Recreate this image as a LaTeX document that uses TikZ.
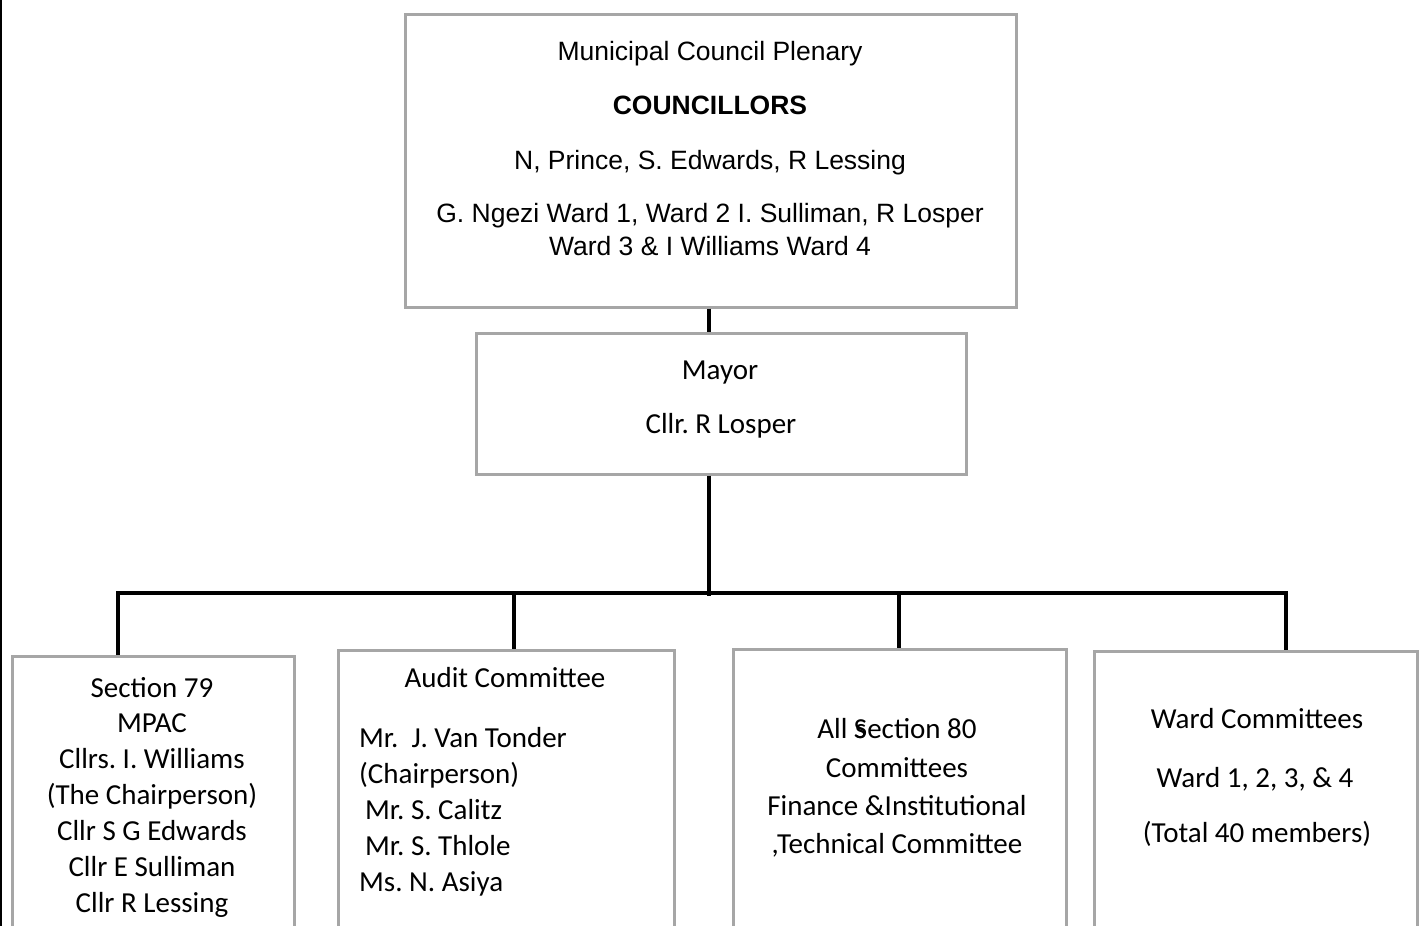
\documentclass[tikz,border=0pt]{standalone}
\usepackage{fontspec}
\newfontfamily\arialf{Liberation Sans}
\newfontfamily\calf{Carlito}
\usetikzlibrary{calc}
\definecolor{boxgray}{HTML}{A6A6A6}
\frenchspacing
\begin{document}
\begin{tikzpicture}[x=1pt,y=-1pt,
  frame/.style={draw=boxgray,line width=2.5pt,rectangle,anchor=north west,inner sep=0pt},
  link/.style={draw=black,line width=4pt},
  ar/.style={font=\arialf\fontsize{26.5}{31}\selectfont,inner sep=0pt,anchor=base},
  cb/.style={font=\calf\fontsize{29}{35}\selectfont,inner sep=0pt,anchor=base},
  cbl/.style={cb,anchor=base west}]
\useasboundingbox (0,0) rectangle (1419,926);
\clip (0,0) rectangle (1419,926);
\fill[white] (0,0) rectangle (1419,926);

% page rule on the left
\coordinate (edgetop) at (1.2,0);
\coordinate (edgebot) at (1.2,926);
\draw[line width=2.5pt] (edgetop) -- (edgebot);

% boxes
\node[frame,minimum width=611pt,minimum height=293pt] (plenary) at (404,13) {};
\node[frame,minimum width=490pt,minimum height=141pt] (mayor) at (475,332) {};
\node[frame,minimum width=282pt,minimum height=320pt] (b1) at (11,655) {};
\node[frame,minimum width=336pt,minimum height=320pt] (b2) at (337,649) {};
\node[frame,minimum width=333pt,minimum height=320pt] (b3) at (732,648) {};
\node[frame,minimum width=323pt,minimum height=320pt] (b4) at (1093,650) {};

% plenary text
\node[ar] (p1) at (710,60) {Municipal Council Plenary};
\node[ar,font=\arialf\bfseries\fontsize{26.5}{31}\selectfont] (p2) at (710,114) {COUNCILLORS};
\node[ar] (p3) at (710,169) {N, Prince, S. Edwards, R Lessing};
\node[ar] (p4) at (710,222.5) {G. Ngezi Ward 1, Ward 2 I. Sulliman, R Losper};
\node[ar] (p5) at (710,255) {Ward 3 \& I Williams Ward 4};

% mayor text
\node[cb] (m1) at (720,379) {Mayor};
\node[cb] (m2) at (721,433) {Cllr. R Losper};

% section 79 text
\node[cb] (s1) at (152,697) {Section 79};
\node[cb] (s2) at (152,732) {MPAC};
\node[cb] (s3) at (152,768) {Cllrs. I. Williams};
\node[cb] (s4) at (152,804) {(The Chairperson)};
\node[cb] (s5) at (152,840) {Cllr S G Edwards};
\node[cb] (s6) at (152,876) {Cllr E Sulliman};
\node[cb] (s7) at (152,912) {Cllr R Lessing};

% audit committee text
\node[cb] (a0) at (505,687) {Audit Committee};
\node[cbl] (a1) at (359,747) {Mr.\ \ J. Van Tonder};
\node[cbl] (a2) at (359,783) {(Chairperson)};
\node[cbl] (a3) at (365,819) {Mr. S. Calitz};
\node[cbl] (a4) at (365,855) {Mr. S. Thlole};
\node[cbl] (a5) at (359,891) {Ms. N. Asiya};

% section 80 text
\node[cb] (c1) at (897,738) {All \makebox[0pt][l]{\hspace{1.2pt}s}Section 80};
\node[cb] (c2) at (897,777) {Committees};
\node[cb] (c3) at (897,815) {Finance \&Institutional};
\node[cb] (c4) at (897,853) {,Technical Committee};

% ward committees text
\node[cb] (w1) at (1257,728) {Ward Committees};
\node[cb] (w2) at (1255,787) {Ward 1, 2, 3, \& 4};
\node[cb] (w3) at (1257,842) {(Total 40 members)};

% connectors
\coordinate (hub) at (709,596);
\coordinate (d1) at (118,593);
\coordinate (d2) at (514,593);
\coordinate (d3) at (899,593);
\coordinate (d4) at (1286,593);

\draw[link] (hub |- plenary.south) -- (hub |- mayor.north);
\draw[link] (hub |- mayor.south) -- (hub);
\draw[link] (d1 |- b1.north) -- (d1) -- (d4) -- (d4 |- b4.north);
\draw[link] (d2) -- (d2 |- b2.north);
\draw[link] (d3) -- (d3 |- b3.north);
\end{tikzpicture}
\end{document}
